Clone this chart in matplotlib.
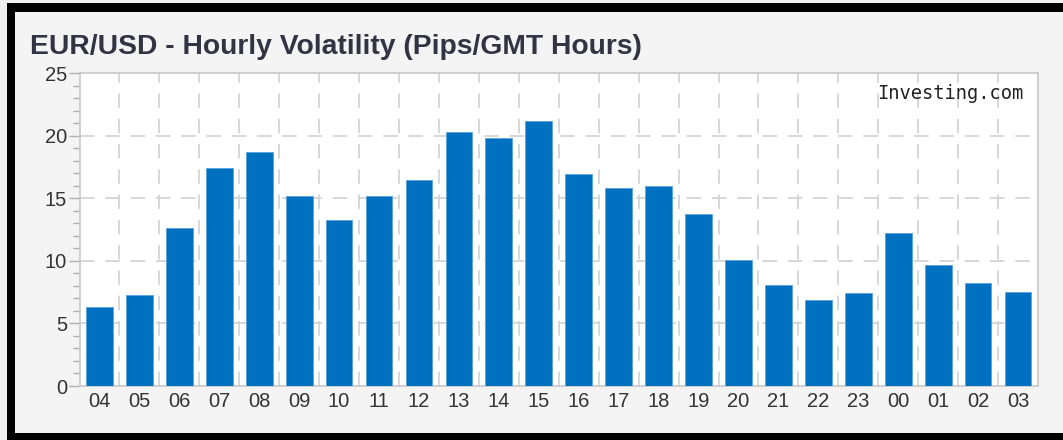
import matplotlib
matplotlib.use("Agg")
import matplotlib.pyplot as plt
from matplotlib.patches import Rectangle
from matplotlib.ticker import MultipleLocator

hours = ["04", "05", "06", "07", "08", "09", "10", "11", "12", "13", "14", "15",
         "16", "17", "18", "19", "20", "21", "22", "23", "00", "01", "02", "03"]
pips = [6.3, 7.25, 12.6, 17.4, 18.7, 15.2, 13.3, 15.2, 16.5, 20.3, 19.8, 21.2,
        16.95, 15.8, 16.0, 13.75, 10.1, 8.05, 6.9, 7.4, 12.2, 9.65, 8.2, 7.55]
y_ticks = [0, 5, 10, 15, 20, 25]

W, H = 1063, 440
fig = plt.figure(figsize=(W / 100, H / 100), dpi=100)
fig.patch.set_facecolor("#f0f0f0")

def px_rect(x0, y0, x1, y1, color):
    fig.patches.append(Rectangle((x0 / W, 1 - y1 / H), (x1 - x0) / W, (y1 - y0) / H,
                                 transform=fig.transFigure, facecolor=color,
                                 edgecolor="none", zorder=-10))

# inner light background and black frame
px_rect(15, 12, W, 433, "#f4f4f4")
px_rect(7, 3, W, 12, "black")
px_rect(7, 3, 15, H, "black")
px_rect(7, 433, W, H, "black")

left, right, top, bottom = 79.5, 1038, 73.3, 386
ax = fig.add_axes([left / W, 1 - bottom / H, (right - left) / W, (bottom - top) / H])
ax.set_zorder(5)
ax.set_facecolor("white")

x = list(range(len(hours)))
ax.bar(x, pips, width=0.67, color="#0070c0", edgecolor="#5aa3dc", linewidth=0.6, zorder=3)

ax.set_xlim(-0.5, len(hours) - 0.5)
ax.set_ylim(0, 25)
ax.set_yticks(y_ticks)
ax.yaxis.set_minor_locator(MultipleLocator(1))
ax.set_xticks(x)
ax.set_xticklabels(hours)

for s in ax.spines.values():
    s.set_color("#c8c8c8")
    s.set_linewidth(1.2)

ax.tick_params(axis="y", which="major", length=8, width=1, color="#b0b0b0",
               labelsize=14.5, labelcolor="#333333", pad=1)
ax.tick_params(axis="y", which="minor", length=5, width=1, color="#b0b0b0")
ax.tick_params(axis="x", which="both", length=0, labelsize=14.5, labelcolor="#333333", pad=4)
for lab in ax.get_xticklabels() + ax.get_yticklabels():
    lab.set_family("Liberation Sans")

grid_kw = dict(color="#d4d4d4", linewidth=1.3, linestyle=(0, (8, 6)), zorder=1)
for yv in y_ticks[1:-1]:
    ax.axhline(yv, **grid_kw)
for xv in x[:-1]:
    ax.axvline(xv + 0.5, **grid_kw)

ax.text(1 - 15 / (right - left), 1 - (93 - top) / (bottom - top), "Investing.com",
        transform=ax.transAxes, ha="right", va="center",
        family="DejaVu Sans Mono", fontsize=13.5, color="#222222", zorder=5)

fig.text(30 / W, 1 - 47 / H, "EUR/USD - Hourly Volatility (Pips/GMT Hours)",
         ha="left", va="center", fontsize=20.3, fontweight="bold",
         family="Liberation Sans", color="#333344")

fig.savefig("out.png", dpi=100, facecolor=fig.get_facecolor())
